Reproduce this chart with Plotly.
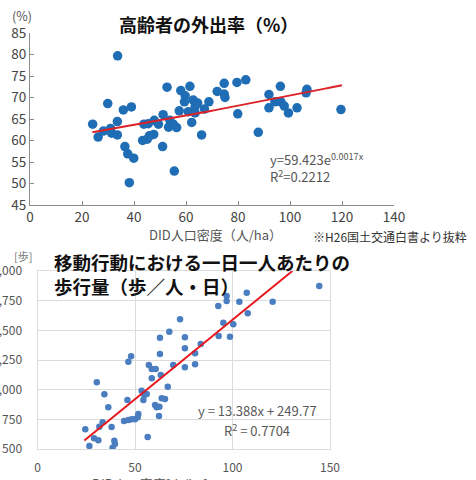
import numpy as np
import plotly.graph_objects as go

# ---------- Top chart data: 高齢者の外出率 ----------
top_density = [33.7, 52.7, 58.0, 61.5, 59.7, 59.4, 62.8, 29.9, 35.9, 39.0, 57.4, 60.9, 63.5,
               24.1, 26.2, 28.2, 31.0, 31.4, 33.6, 33.6, 36.5, 37.6, 39.9, 38.2, 43.8, 45.5,
               47.8, 49.4, 51.2, 53.8, 53.3, 56.4, 55.1, 43.3, 45.1, 45.9, 47.6, 51.0, 55.5,
               62.2, 64.5, 63.5, 68.8, 67.1, 66.0, 72.0, 74.7, 74.7, 75.0, 79.6, 83.0, 79.9,
               87.8, 91.9, 96.3, 91.9, 94.2, 96.5, 97.8, 99.4, 102.7, 106.5, 106.2, 119.6]
top_rate = [79.7, 72.4, 71.6, 72.6, 70.4, 69.0, 69.4, 68.6, 67.1, 67.8, 66.9, 66.7, 67.9,
            63.8, 60.8, 62.2, 62.8, 61.7, 61.3, 64.4, 58.6, 56.9, 55.9, 50.2, 63.8, 63.9,
            64.7, 63.8, 66.0, 64.7, 63.1, 63.0, 63.8, 60.0, 60.3, 61.1, 61.4, 58.6, 52.9,
            64.2, 68.7, 66.4, 69.0, 67.3, 61.3, 71.4, 73.3, 70.8, 70.0, 73.5, 74.1, 66.2,
            61.9, 70.7, 72.6, 67.6, 69.0, 69.0, 68.0, 66.4, 67.6, 71.9, 71.1, 67.2]
top_fit_a = 59.423
top_fit_b = 0.0017
top_fit_xrange = [24, 120]
top_xticks = [0, 20, 40, 60, 80, 100, 120, 140]
top_yticks = [45, 50, 55, 60, 65, 70, 75, 80, 85]

# ---------- Bottom chart data: 歩行量 ----------
bot_density = [24.5, 26.6, 29.0, 31.2, 30.4, 31.7, 33.4, 34.3, 36.3, 38.0, 39.4, 39.7, 38.5,
               46.6, 48.0, 46.1, 44.4, 46.6, 48.3, 50.0, 51.4, 51.7, 53.4, 54.3, 54.8, 56.0,
               56.5, 57.1, 58.6, 60.6, 58.6, 62.8, 67.6, 62.8, 63.2, 60.3, 61.1, 62.5, 62.3,
               63.7, 65.4, 66.8, 69.6, 75.6, 75.6, 75.6, 80.8, 80.8, 83.7, 73.1, 144.5, 97.0,
               97.0, 107.3, 103.5, 120.6, 92.7, 107.8, 95.3, 100.4, 92.9, 98.7]
bot_steps = [666, 525, 590, 573, 1062, 688, 725, 961, 851, 685, 570, 542, 511,
             1236, 1281, 913, 736, 744, 750, 750, 767, 795, 991, 913, 955, 963,
             601, 1208, 1174, 1174, 1096, 1438, 1489, 1301, 1124, 871, 851, 857, 778,
             927, 921, 1025, 1208, 1441, 1349, 1188, 1306, 1214, 1385, 1593, 1874, 1789,
             1747, 1817, 1741, 1741, 1705, 1644, 1564, 1551, 1452, 1446]
bot_fit_slope = 13.388
bot_fit_intercept = 249.77
bot_fit_xrange = [24, 130.7]
bot_xticks = [0, 50, 100, 150]
bot_yticks = [500, 750, 1000, 1250, 1500, 1750, 2000]
bot_yticklabels = ["500", "750", "1,000", "1,250", "1,500", "1,750", "2,000"]

W, H = 476, 480
FONT = "Noto Sans CJK JP"


def px(x):
    return x / W


def py(y):
    return 1 - y / H


fig = go.Figure()

# Top scatter
fig.add_trace(go.Scatter(x=top_density, y=top_rate, mode="markers",
                         marker=dict(size=9.5, color="#1f6db4"),
                         xaxis="x", yaxis="y", showlegend=False))
tx = np.linspace(top_fit_xrange[0], top_fit_xrange[1], 60)
fig.add_trace(go.Scatter(x=tx, y=top_fit_a * np.exp(top_fit_b * tx), mode="lines",
                         line=dict(color="#dd2227", width=2),
                         xaxis="x", yaxis="y", showlegend=False))

# Bottom scatter
fig.add_trace(go.Scatter(x=bot_density, y=bot_steps, mode="markers",
                         marker=dict(size=6.5, color="#4a7ec0"),
                         xaxis="x2", yaxis="y2", showlegend=False))
bx = np.array(bot_fit_xrange)
fig.add_trace(go.Scatter(x=bx, y=bot_fit_slope * bx + bot_fit_intercept, mode="lines",
                         line=dict(color="#e8161c", width=2),
                         xaxis="x2", yaxis="y2", showlegend=False))

axis_gray = "#8c8c8c"
fig.update_layout(
    width=W, height=H,
    margin=dict(l=0, r=0, t=0, b=0, autoexpand=False),
    paper_bgcolor="white", plot_bgcolor="white",
    font=dict(family=FONT, color="#444"),
    xaxis=dict(domain=[px(30), px(394)], range=[0, 140], tickvals=top_xticks,
               showline=True, linecolor=axis_gray, linewidth=1.2,
               ticks="inside", ticklen=4, tickcolor=axis_gray,
               showgrid=False, zeroline=False, anchor="y", automargin=False,
               tickfont=dict(size=13.5, color="#444", family=FONT)),
    yaxis=dict(domain=[py(205), py(33)], range=[45, 85], tickvals=top_yticks,
               showline=True, linecolor=axis_gray, linewidth=1.2,
               ticks="inside", ticklen=4, tickcolor=axis_gray,
               showgrid=False, zeroline=False, anchor="x", automargin=False,
               tickfont=dict(size=13.5, color="#444", family=FONT)),
    xaxis2=dict(domain=[px(37.5), px(330)], range=[0, 150], tickvals=bot_xticks,
                showgrid=True, gridcolor="#dcdcdc", zeroline=False,
                showline=True, mirror=True, linecolor="#dcdcdc",
                ticks="", anchor="y2", ticklabelstandoff=8, automargin=False,
                tickfont=dict(size=12, color="#555", family=FONT)),
    yaxis2=dict(domain=[py(449), py(271)], range=[500, 2000], tickvals=bot_yticks,
                ticktext=bot_yticklabels,
                showgrid=True, gridcolor="#dcdcdc", zeroline=False,
                showline=True, mirror=True, linecolor="#dcdcdc",
                ticks="", anchor="x2", ticklabelstandoff=12, automargin=False,
                tickfont=dict(size=12, color="#555", family=FONT)),
)

ann = []


def add_text(text, x, y, size, color="#444", xanchor="left", bold=False):
    if bold:
        text = "<b>" + text + "</b>"
    ann.append(dict(text=text, x=px(x), y=py(y), xref="paper", yref="paper",
                    xanchor=xanchor, yanchor="middle", showarrow=False, align=xanchor,
                    font=dict(size=size, color=color, family=FONT)))


# Top chart texts
add_text("(%)", 22, 16, 12.5, "#555", xanchor="center")
add_text("高齢者の外出率（%）", 117, 24, 18, "#111", bold=True)
add_text("DID人口密度（人/ha）", 147, 235, 13, "#555")
add_text("※H26国土交通白書より抜粋", 311, 236, 12, "#333")
add_text("y=59.423e<sup>0.0017x</sup>", 268, 159, 13, "#555")
add_text("R<sup>2</sup>=0.2212", 268, 176, 13, "#555")

# Bottom chart texts
add_text("[歩]", 23, 256, 11, "#777", xanchor="center")
add_text("移動行動における一日一人あたりの", 52, 262, 18.5, "#111", bold=True)
add_text("歩行量（歩／人・日）", 52, 286, 18.5, "#111", bold=True)
add_text("y = 13.388x + 249.77", 257, 410, 13, "#595959", xanchor="center")
add_text("R<sup>2</sup> = 0.7704", 257, 430, 13, "#595959", xanchor="center")
add_text("DID人口密度[人/ha]", 150, 483, 13, "#555", xanchor="center")

fig.update_layout(annotations=ann)

fig.write_html("out.html", config={"displayModeBar": False},
               post_script="document.body.style.margin='0';document.body.style.overflow='hidden';")
